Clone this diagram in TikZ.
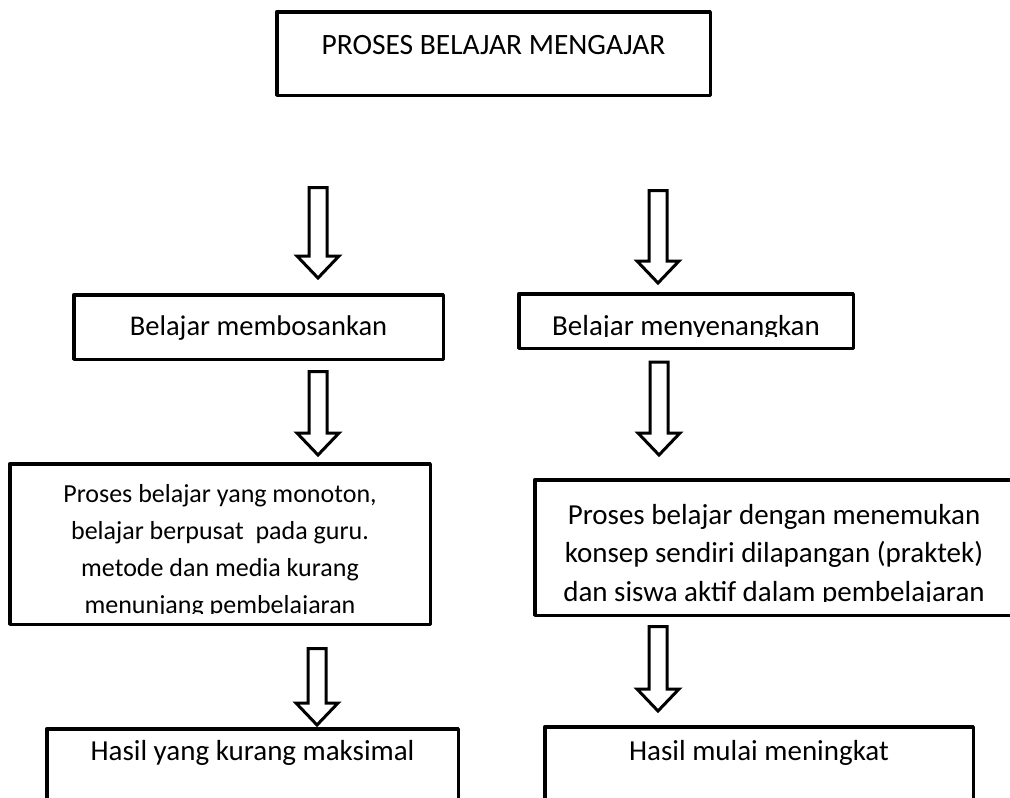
\documentclass[tikz,border=0pt]{standalone}
\usepackage{fontspec}
\setmainfont{Carlito}
\usepackage{tikz}
\usetikzlibrary{calc, positioning}

\begin{document}
\begin{tikzpicture}[
    x=1pt, y=-1pt,
    panel/.style={draw, line width=3.5pt, line join=round, inner sep=0pt, outer sep=0pt,
                align=center, anchor=north, font=\fontsize{29pt}{38.5pt}\selectfont},
    blockarrow/.style={draw, line width=3pt, line join=miter, fill=white,
        to path={let \p1=(\tikztostart), \p2=(\tikztotarget) in
            (\x1-9pt,\y1) -- (\x1+9pt,\y1) -- (\x1+9pt,\y2+22pt) -- (\x1+21pt,\y2+22pt)
            -- (\x1,\y2) -- (\x1-21pt,\y2+22pt) -- (\x1-9pt,\y2+22pt) -- cycle}}
]
\useasboundingbox (0,0) rectangle (1010,798);
\node[panel, minimum width=433.5pt, text height=42.25pt, text depth=41.25pt, font=\fontsize{29.5pt}{38.5pt}\selectfont] (pbm) at (493.5,11.75) {PROSES BELAJAR MENGAJAR};
\node[panel, minimum width=369.5pt, text height=40.25pt, text depth=24.25pt, font=\fontsize{28.5pt}{38.5pt}\selectfont] (bosan) at (258.5,294.75) {Belajar membosankan};
\node[panel, minimum width=334.5pt, text height=41.25pt, text depth=13.25pt] (senang) at (686,293.75) {Belajar menyenangkan};
\node[panel, minimum width=420.5pt, text height=149.25pt, text depth=11.25pt, font=\fontsize{26pt}{36.7pt}\selectfont] (monoton) at (220,463.75) {Proses belajar yang monoton,\\belajar berpusat\ \ pada guru.\\metode dan media kurang\\menunjang pembelajaran};
\node[panel, minimum width=478.5pt, text height=121.25pt, text depth=14.25pt] (aktif) at (774,479.75) {Proses belajar dengan menemukan\\konsep sendiri dilapangan (praktek)\\dan siswa aktif dalam pembelajaran};
\node[panel, minimum width=411.5pt, text height=31.25pt, text depth=70pt] (kurang) at (252.5,728.75) {Hasil yang kurang maksimal};
\node[panel, minimum width=428.5pt, text height=33.25pt, text depth=70pt] (naik) at (759,726.75) {Hasil mulai meningkat};
\fill[white] ($(senang.south west)+(1.8,-1.8)$) rectangle ($(senang.south east)+(-1.8,-11.25)$);
\fill[white] ($(monoton.south west)+(1.8,-1.8)$) rectangle ($(monoton.south east)+(-1.8,-10.25)$);
\fill[white] ($(aktif.south west)+(1.8,-1.8)$) rectangle ($(aktif.south east)+(-1.8,-13.25)$);
\coordinate (aL1) at (318,187.5);
\coordinate (aR1) at (658,190.5);
\coordinate (aL2) at (318,371.5);
\coordinate (aR2) at (659,362);
\coordinate (aL3) at (317,648.5);
\coordinate (aR3) at (658,626.5);
\draw[blockarrow] (aL1) to ($(aL1 |- bosan.north)+(0,-16.75)$);
\draw[blockarrow] (aR1) to ($(aR1 |- senang.north)+(0,-10.75)$);
\draw[blockarrow] (aL2) to ($(aL2 |- monoton.north)+(0,-8.75)$);
\draw[blockarrow] (aR2) to ($(aR2 |- aktif.north)+(0,-24.75)$);
\draw[blockarrow] (aL3) to ($(aL3 |- kurang.north)+(0,-3.75)$);
\draw[blockarrow] (aR3) to ($(aR3 |- naik.north)+(0,-15.75)$);
\end{tikzpicture}
\end{document}
